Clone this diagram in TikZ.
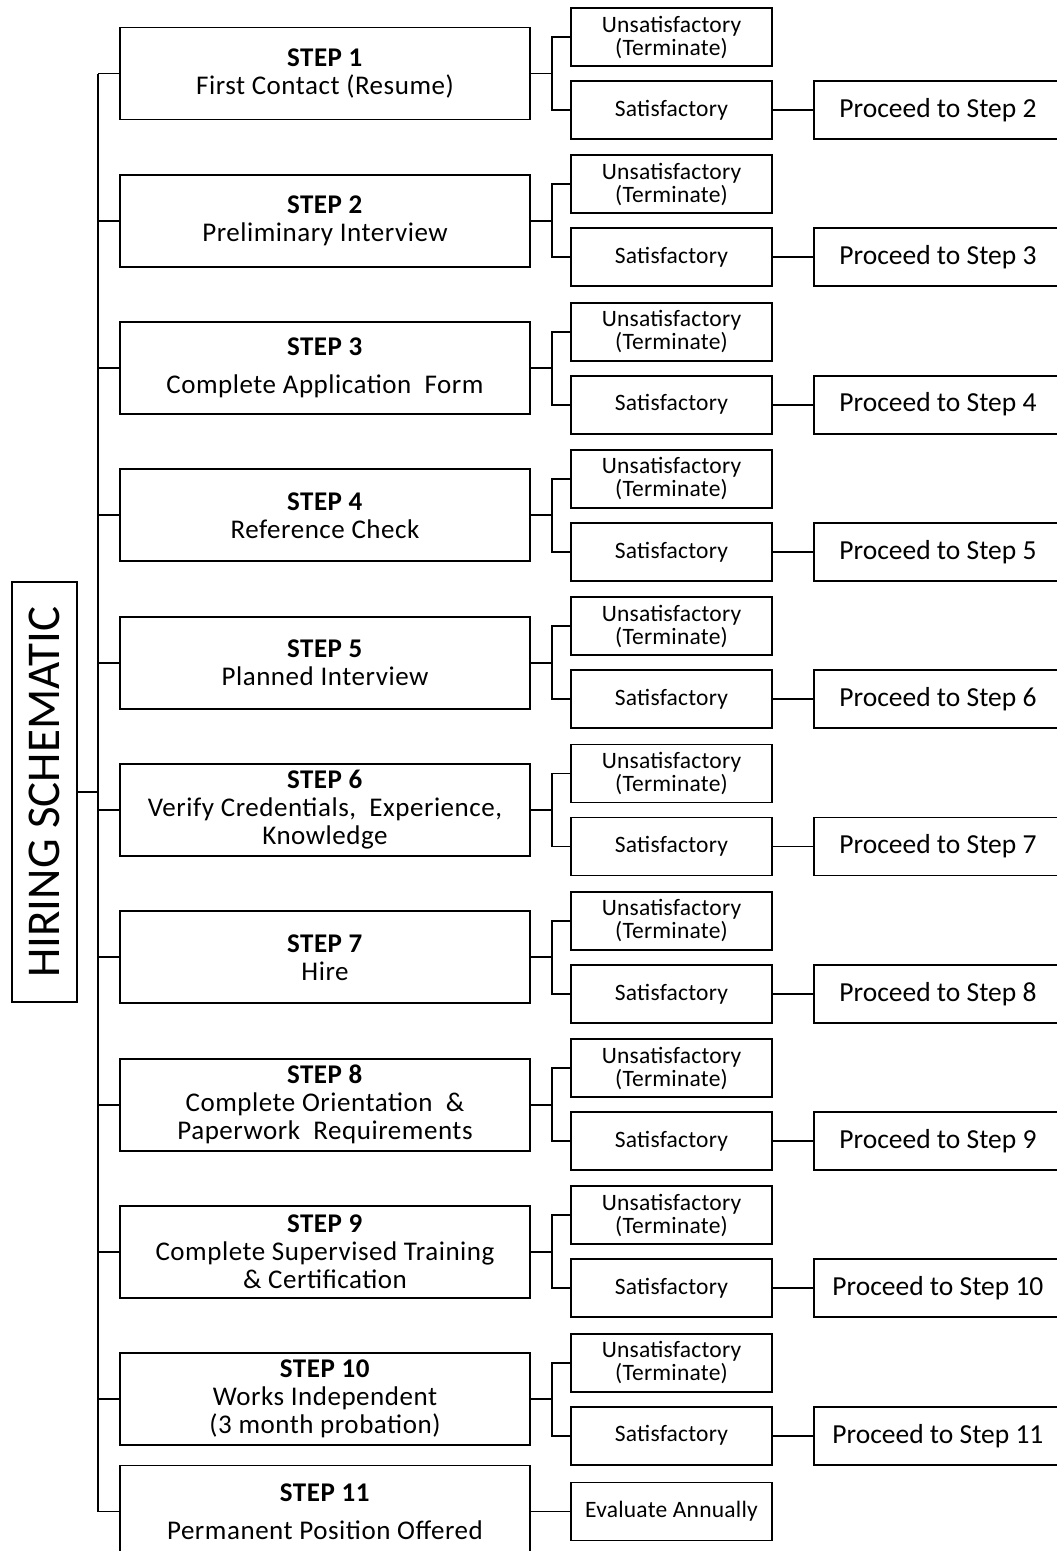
\documentclass[tikz,border=0pt]{standalone}
\usepackage{fontspec}
\setmainfont{Carlito}
\usetikzlibrary{calc}
\newcommand{\stepfont}{\fontsize{27}{28}\selectfont\addfontfeatures{LetterSpace=2}}
\newcommand{\resfont}{\fontsize{23.5}{23}\selectfont\addfontfeatures{LetterSpace=1}}
\newcommand{\nextfont}{\fontsize{27.5}{30}\selectfont}
\newcommand{\titlefont}{\fontsize{47}{50}\selectfont}
\begin{document}
\begin{tikzpicture}[x=1pt,y=-1pt,
  line width=1.9pt,
  box/.style={draw, line width=1.9pt, inner sep=0pt, align=center},
  stepbox/.style={box, minimum width=410pt, minimum height=92pt, font=\stepfont},
  resbox/.style={box, minimum width=201pt, minimum height=58pt, font=\resfont},
  nextbox/.style={box, anchor=west, minimum width=248pt, minimum height=58pt, font=\nextfont},
  titlebox/.style={box, rotate=90, minimum width=420pt, minimum height=65pt, font=\titlefont}]
\useasboundingbox (0,0) rectangle (1057,1551);
\clip (0,0) rectangle (1057,1551);

% title and main bus
\node[titlebox] (hs) at (44.5,792) {HIRING SCHEMATIC};
\coordinate (bh) at (98,792);
\draw (hs.south) -- (bh);

% steps 1 to 10 with their outcome branches
\foreach \i/\txt in {
  1/{\\First Contact (Resume)},
  2/{\\Preliminary Interview},
  3/{\\[10pt]Complete Application\ \ Form},
  4/{\\Reference Check},
  5/{\\Planned Interview},
  6/{\\Verify Credentials,\ \ Experience,\\Knowledge},
  7/{\\Hire},
  8/{\\Complete Orientation\ \ \&\\Paperwork\ \ Requirements},
  9/{\\Complete Supervised Training\\\& Certification},
  10/{\\Works Independent\\(3 month probation)}} {
  \pgfmathsetmacro{\yy}{73.5+147.3*(\i-1)}
  \pgfmathtruncatemacro{\nx}{\i+1}
  \node[stepbox] (s\i) at (325,\yy) {\textbf{STEP \i}\txt};
  \node[resbox] (u\i) at (671.5,\yy-36.5) {Unsatisfactory\\(Terminate)};
  \node[resbox] (v\i) at (671.5,\yy+36.5) {Satisfactory};
  \node[nextbox] (p\i) at (813,\yy+36.5) {Proceed to Step \nx};
  \coordinate (b\i) at (98,\yy);
  \coordinate (f\i) at ($(s\i.east)+(21,0)$);
  \draw (b\i) -- (s\i.west);
  \draw (s\i.east) -- (f\i);
  \draw (u\i.west) -| (f\i) |- (v\i.west);
  \draw (v\i.east) -- (p\i.west);
}

% final step
\node[stepbox] (s11) at (325,1511.5) {\textbf{STEP 11}\\[10pt]Permanent Position Offered};
\node[resbox] (ev) at (671.5,1511.5) {Evaluate Annually};
\coordinate (b11) at (98,1511.5);
\draw (b11) -- (s11.west);
\draw (s11.east) -- (ev.west);
\draw (b1) -- (b11);
\end{tikzpicture}
\end{document}
